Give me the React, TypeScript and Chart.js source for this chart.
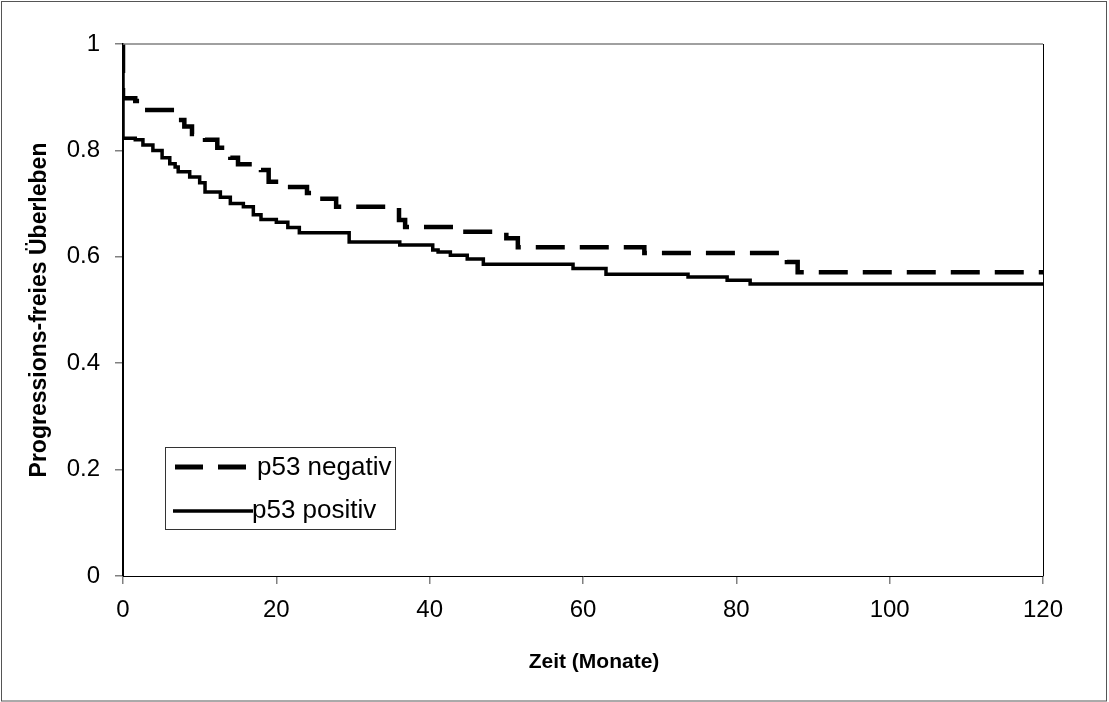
import React, { useEffect, useRef } from "react";
import { Chart, registerables } from "chart.js";

Chart.register(...registerables);

// p53 negativ (dashed)
const negTime = [0, 0, 1.6, 2.5, 7.2, 8, 9, 10.7, 12.3, 14, 15, 18, 19, 21.5, 24, 25.5, 27.8, 36, 36.8, 43.7, 50, 51.5, 68, 86.6, 88, 120];
const negSurv = [1, 0.898, 0.893, 0.876, 0.857, 0.845, 0.831, 0.82, 0.805, 0.786, 0.774, 0.763, 0.741, 0.731, 0.72, 0.709, 0.694, 0.669, 0.656, 0.647, 0.635, 0.618, 0.607, 0.59, 0.571, 0.571];

// p53 positiv (solid)
const posTime = [0, 0, 1.6, 2.6, 3.9, 5.1, 6.1, 6.8, 7.2, 8.7, 10, 10.7, 12.7, 14, 15.7, 17, 18, 20, 21.5, 23, 29.5, 36.1, 40.4, 41.1, 42.7, 44.9, 47, 58.7, 63, 73.7, 78.8, 81.8, 120];
const posSurv = [1, 0.823, 0.82, 0.81, 0.8, 0.786, 0.775, 0.769, 0.76, 0.75, 0.739, 0.722, 0.712, 0.7, 0.694, 0.679, 0.67, 0.665, 0.655, 0.645, 0.628, 0.622, 0.613, 0.609, 0.603, 0.596, 0.586, 0.578, 0.567, 0.562, 0.556, 0.549, 0.549];

const seriesLabels = ["p53 negativ", "p53 positiv"];
const xTitle = "Zeit (Monate)";
const yTitle = "Progressions-freies Überleben";

const FONT = "'Liberation Sans', Arial, sans-serif";

const framePlugin = {
  id: "framePlugin",
  afterDraw(chart: any) {
    const { ctx, chartArea } = chart;
    ctx.save();
    // outer frame
    ctx.strokeStyle = "#555";
    ctx.lineWidth = 1;
    ctx.strokeRect(1.5, 1.5, 1105, 699.5);
    // plot area top (gray) and right (black)
    ctx.beginPath();
    ctx.strokeStyle = "#808080";
    ctx.lineWidth = 1.5;
    ctx.moveTo(chartArea.left, chartArea.top);
    ctx.lineTo(chartArea.right, chartArea.top);
    ctx.stroke();
    ctx.beginPath();
    ctx.strokeStyle = "#000";
    ctx.lineWidth = 1;
    ctx.moveTo(chartArea.right + 0.5, chartArea.top);
    ctx.lineTo(chartArea.right + 0.5, chartArea.bottom);
    ctx.stroke();

    // x axis title (slightly right of centre, as in the reference)
    ctx.fillStyle = "#000";
    ctx.font = `bold 21px ${FONT}`;
    ctx.textAlign = "center";
    ctx.textBaseline = "middle";
    ctx.fillText(xTitle, 594, 662);

    // legend box
    const bx = 165, by = 447, bw = 230, bh = 82;
    ctx.fillStyle = "#fff";
    ctx.fillRect(bx, by, bw, bh);
    ctx.strokeStyle = "#333";
    ctx.lineWidth = 1;
    ctx.strokeRect(bx + 0.5, by + 0.5, bw, bh);
    // dashed sample
    ctx.strokeStyle = "#000";
    ctx.lineWidth = 5;
    ctx.setLineDash([28, 15]);
    ctx.beginPath();
    ctx.moveTo(175, 467);
    ctx.lineTo(247, 467);
    ctx.stroke();
    ctx.setLineDash([]);
    // solid sample
    ctx.lineWidth = 3.5;
    ctx.beginPath();
    ctx.moveTo(173, 511);
    ctx.lineTo(253, 511);
    ctx.stroke();
    ctx.fillStyle = "#000";
    ctx.font = `26px ${FONT}`;
    ctx.textBaseline = "middle";
    ctx.textAlign = "left";
    ctx.fillText(seriesLabels[0], 257, 468);
    ctx.fillText(seriesLabels[1], 252, 511);
    ctx.restore();
  },
};

export default function App() {
  const ref = useRef<HTMLCanvasElement | null>(null);
  useEffect(() => {
    if (!ref.current) return;
    const chart = new Chart(ref.current, {
      type: "line",
      data: {
        datasets: [
          {
            label: seriesLabels[0],
            data: negTime.map((t, i) => ({ x: t, y: negSurv[i] })),
            borderColor: "#000",
            borderWidth: 4.5,
            borderDash: [29, 15],
            stepped: "before",
            pointRadius: 0,
            fill: false,
          },
          {
            label: seriesLabels[1],
            data: posTime.map((t, i) => ({ x: t, y: posSurv[i] })),
            borderColor: "#000",
            borderWidth: 3.5,
            stepped: "before",
            pointRadius: 0,
            fill: false,
          },
        ],
      },
      options: {
        animation: false,
        responsive: false,
        devicePixelRatio: 1,
        layout: { padding: { top: 44, right: 66, left: 0, bottom: 0 } },
        plugins: { legend: { display: false }, tooltip: { enabled: false } },
        scales: {
          x: {
            type: "linear",
            min: 0,
            max: 120,
            afterFit: (s: any) => {
              s.height = 126;
            },
            ticks: {
              stepSize: 20,
              color: "#000",
              padding: 12,
              font: { family: FONT, size: 24 },
              maxRotation: 0,
            },
            grid: {
              display: true,
              drawOnChartArea: false,
              drawTicks: true,
              tickLength: 8,
              color: "#808080",
              lineWidth: 1.5,
            },
            border: { display: true, color: "#000", width: 1 },
            title: { display: false },
          },
          y: {
            min: 0,
            max: 1,
            afterFit: (s: any) => {
              s.width = 123;
            },
            ticks: {
              stepSize: 0.2,
              color: "#000",
              padding: 15,
              font: { family: FONT, size: 24 },
              callback: (v: any) => String(Math.round(Number(v) * 10) / 10),
            },
            grid: {
              display: true,
              drawOnChartArea: false,
              drawTicks: true,
              tickLength: 8,
              color: "#808080",
              lineWidth: 1.5,
            },
            border: { display: true, color: "#000", width: 2 },
            title: {
              display: true,
              text: yTitle,
              color: "#000",
              font: { family: FONT, size: 23, weight: "bold" },
              padding: { top: 26, bottom: 0 },
            },
          },
        },
      },
      plugins: [framePlugin],
    } as any);
    return () => chart.destroy();
  }, []);
  return (
    <div style={{ position: "absolute", left: 0, top: 0, width: 1109, height: 702, background: "#fff" }}>
      <canvas ref={ref} width={1109} height={702} style={{ display: "block", width: 1109, height: 702 }} />
    </div>
  );
}
